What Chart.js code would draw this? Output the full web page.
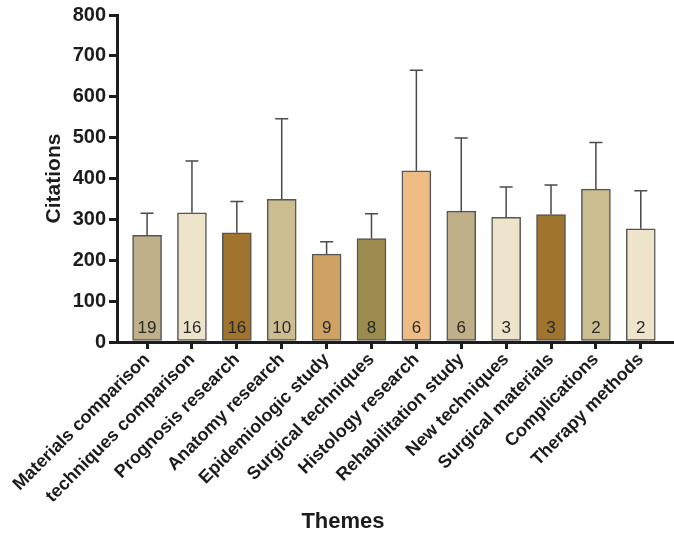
<!DOCTYPE html>
<html>
<head>
<meta charset="utf-8">
<script src="https://cdn.jsdelivr.net/npm/chart.js@4"></script>
<style>
  html, body { margin: 0; padding: 0; background: #fff; }
  #wrap { width: 674px; height: 543px; }
</style>
</head>
<body>
<div id="wrap"><canvas id="chart"></canvas></div>
<script>
const themes = [
  "Materials comparison", "techniques comparison", "Prognosis research",
  "Anatomy research", "Epidemiologic study", "Surgical techniques",
  "Histology research", "Rehabilitation study", "New techniques",
  "Surgical materials", "Complications", "Therapy methods"
];
const citations = [261, 316, 267, 349, 215, 253, 419, 320, 305, 312, 374, 277];
const errorTop = [315, 443, 344, 546, 245, 314, 665, 499, 379, 384, 488, 370];
const counts = [19, 16, 16, 10, 9, 8, 6, 6, 3, 3, 2, 2];
const barColors = [
  "#BFB08A", "#EDE4CB", "#A0742F", "#CBBD90", "#CFA163", "#9C8B4E",
  "#F0BC86", "#BFB08A", "#EDE4CB", "#A0742F", "#CBBD90", "#EDE4CB"
];
const yTicks = [0, 100, 200, 300, 400, 500, 600, 700, 800];

const FONT = "'Liberation Sans', Arial, Helvetica, sans-serif";
const AXIS = "#1c1c1c";

// error bars, counts and axis titles
const extras = {
  id: "extras",
  afterDatasetsDraw(chart) {
    const c = chart.ctx;
    const x = chart.scales.x, y = chart.scales.y;
    c.save();
    c.strokeStyle = "#4a4a4a";
    c.lineWidth = 1.5;
    for (let i = 0; i < citations.length; i++) {
      const px = x.getPixelForValue(i);
      const top = y.getPixelForValue(errorTop[i]);
      const base = y.getPixelForValue(citations[i]);
      c.beginPath();
      c.moveTo(px, base);
      c.lineTo(px, top);
      c.moveTo(px - 6.5, top);
      c.lineTo(px + 6.5, top);
      c.stroke();
    }
    c.fillStyle = "#2a2a2a";
    c.font = "17px " + FONT;
    c.textAlign = "center";
    c.textBaseline = "middle";
    for (let i = 0; i < counts.length; i++) {
      c.fillText(String(counts[i]), x.getPixelForValue(i), 328);
    }
    c.fillStyle = AXIS;
    c.font = "bold 22px " + FONT;
    c.fillText("Themes", 343, 522);
    c.font = "bold 21px " + FONT;
    c.translate(54, (chart.chartArea.top + chart.chartArea.bottom) / 2);
    c.rotate(-Math.PI / 2);
    c.fillText("Citations", 0, 0);
    c.restore();
  }
};

new Chart(document.getElementById("chart"), {
  type: "bar",
  data: {
    datasets: [{
      data: citations.map((v, i) => ({ x: i, y: v })),
      backgroundColor: barColors,
      borderColor: "#555555",
      borderWidth: 1.5,
      borderSkipped: false,
      barThickness: 29
    }]
  },
  options: {
    responsive: true,
    maintainAspectRatio: false,
    animation: false,
    layout: { padding: { top: 7, right: 0, left: 0, bottom: 0 }, autoPadding: false },
    plugins: { legend: { display: false }, tooltip: { enabled: false } },
    scales: {
      x: {
        type: "linear",
        offset: false,
        min: -0.67,
        max: 11.74,
        afterBuildTicks: (axis) => { axis.ticks = themes.map((t, i) => ({ value: i })); },
        afterFit: (s) => { s.height = 201; },
        grid: { offset: false, drawOnChartArea: false, tickLength: 7, lineWidth: 3, color: AXIS },
        border: { display: true, width: 3, color: AXIS },
        ticks: {
          autoSkip: false,
          maxRotation: 45,
          minRotation: 45,
          padding: 0,
          color: AXIS,
          font: { family: FONT, size: 18, weight: "bold" },
          callback: (v) => themes[v]
        }
      },
      y: {
        min: 0,
        max: 800,
        afterBuildTicks: (axis) => { axis.ticks = yTicks.map(v => ({ value: v })); },
        afterFit: (s) => { s.width = 117; },
        grid: { drawOnChartArea: false, tickLength: 8, lineWidth: 3, color: AXIS },
        border: { display: true, width: 3, color: AXIS },
        ticks: {
          padding: 3,
          color: AXIS,
          font: { family: FONT, size: 20, weight: "bold" }
        }
      }
    }
  },
  plugins: [extras]
});
</script>
</body>
</html>
